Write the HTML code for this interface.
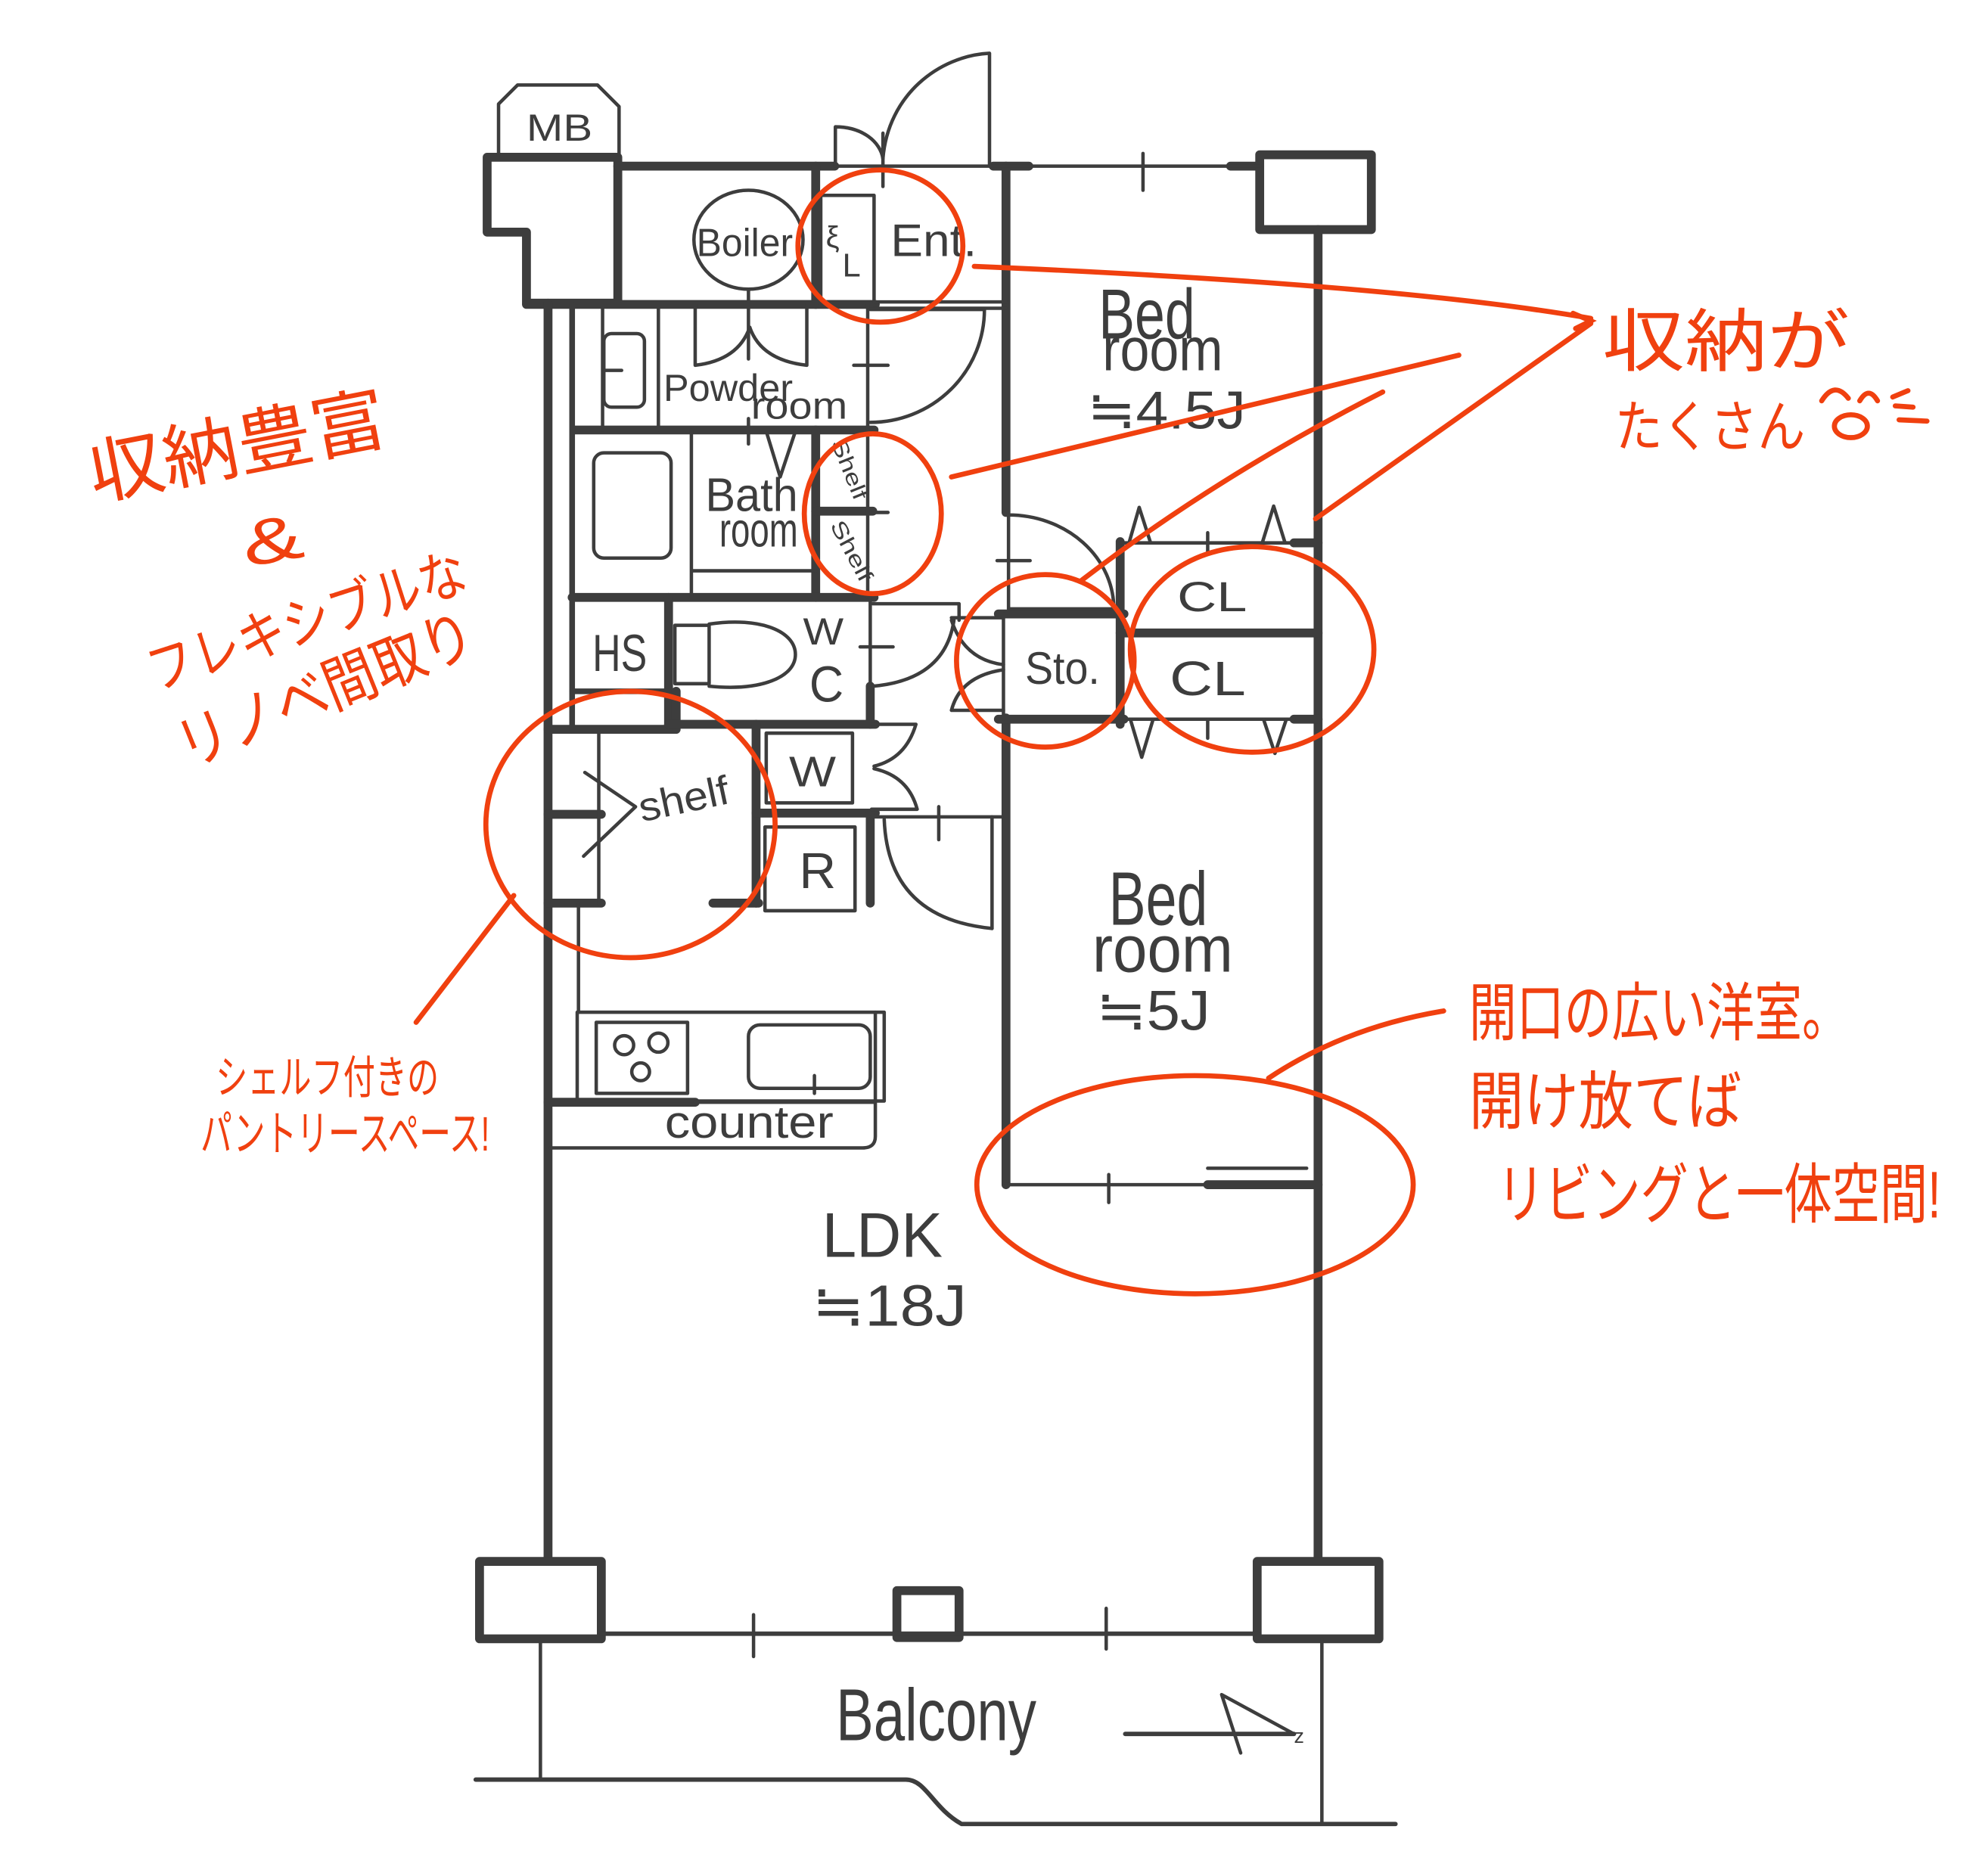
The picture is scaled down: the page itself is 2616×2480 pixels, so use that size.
<!DOCTYPE html>
<html><head><meta charset="utf-8">
<style>
html,body{margin:0;padding:0;background:#fff;}
svg{display:block}
</style></head><body>
<svg xmlns="http://www.w3.org/2000/svg" width="2616" height="2480" viewBox="0 0 1560 1479" preserveAspectRatio="none">
<rect x="0" y="0" width="1560" height="1479" fill="#fff"/>
<g fill="none" stroke="#3d3d3d" stroke-linecap="round" stroke-linejoin="round">
 <!-- thick walls -->
 <g stroke-width="7">
  <path d="M384,124 H487 V239 H415 V183 H384 Z"/>
  <path d="M487,131 H658"/>
  <path d="M643,131 V240"/>
  <path d="M415,240 H690"/>
  <path d="M432,239 V1231"/>
  <path d="M783,131 H811"/>
  <path d="M970,131 H993"/>
  <rect x="993" y="122" width="88" height="59"/>
  <path d="M1039,181 V1231"/>
  <path d="M793,131 V404"/>
  <path d="M793,566 V934"/>
  <path d="M453,339 H689"/>
  <path d="M643,339 V471"/>
  <path d="M643,403 H688"/>
  <path d="M451,471 H689"/>
  <path d="M527,471 V574"/>
  <path d="M432,575 H533 V545"/>
  <path d="M527,571 H690"/>
  <path d="M686,541 V571"/>
  <path d="M596,571 V712"/>
  <path d="M562,712 H598"/>
  <path d="M596,641 H690"/>
  <path d="M686,641 V712"/>
  <path d="M432,642 H474"/>
  <path d="M432,712 H474"/>
  <path d="M432,869 H548"/>
  <path d="M787,484 H886"/>
  <path d="M787,567 H886"/>
  <path d="M883,427 V571"/>
  <path d="M883,499 H1039"/>
  <path d="M1020,428 H1039"/>
  <path d="M1020,567 H1039"/>
  <path d="M952,934 H1039"/>
  <rect x="378" y="1231" width="96" height="61"/>
  <rect x="991" y="1231" width="96" height="61"/>
  <rect x="707" y="1254" width="49" height="37"/>
 </g>
 <g stroke-width="4.5">
  <path d="M451,240 V576"/>
  <path d="M451,545 H527"/>
 </g>
 <!-- thin lines -->
 <g stroke-width="2.7">
  <path d="M393,122 V82 L408,67 H471 L488,84 V122"/>
  <path d="M658,131 H993"/>
  <path d="M901,121 V150"/>
  <path d="M658.5,131 V100 C680,100 694,112 696,125"/>
  <path d="M780,131 V42 C740,44 700,75 696,125"/>
  <path d="M696,105 V147"/>
  <rect x="647" y="154" width="42" height="86"/>
  <path d="M689,238 H793 M689,243 H793"/>
  <ellipse cx="590" cy="189" rx="43" ry="39"/>
  <path d="M590,228 V283"/>
  <path d="M548,240 V288 Q582,284 591,258"/>
  <path d="M636,240 V288 Q600,284 591,258"/>
  <path d="M475,240 V339 M519,240 V339"/>
  <rect x="476" y="263" width="32" height="58" rx="6"/>
  <path d="M476,292 H490"/>
  <path d="M684,240 V339"/>
  <path d="M673,288 H700"/>
  <path d="M686,244 H776 A90,89 0 0 1 686,333"/>
  <rect x="468" y="357" width="61" height="83" rx="8"/>
  <path d="M545,339 V471 M545,450 H643"/>
  <path d="M604,340 L615,376 L627,340"/>
  <path d="M590,330 V350"/>
  <path d="M684,339 V471 M684,404 H700"/>
  <rect x="532" y="493" width="27" height="46"/>
  <path d="M559,492 C600,486 627,498 627,516 C627,534 600,545 559,541"/>
  <path d="M686,471 V541 M678,510 H704"/>
  <path d="M688,476 H756 V489"/>
  <path d="M752,489 Q745,536 688,541"/>
  <path d="M472,576 V712"/>
  <path d="M461,609 L501,636 L460,675"/>
  <rect x="604" y="578" width="68" height="55"/>
  <path d="M687,571 H722 Q714,598 689,604"/>
  <path d="M689,606 Q716,612 723,638 H687"/>
  <rect x="603" y="652" width="71" height="66"/>
  <path d="M687,644 H790"/>
  <path d="M782,644 V732"/>
  <path d="M697,646 Q700,724 782,732"/>
  <path d="M740,636 V662"/>
  <path d="M456,712 V798"/>
  <rect x="455" y="798" width="242" height="70"/>
  <path d="M690,798 V868"/>
  <rect x="470" y="806" width="72" height="56"/>
  <circle cx="492" cy="824" r="7.5"/>
  <circle cx="519" cy="822" r="7.5"/>
  <circle cx="505" cy="845" r="7"/>
  <rect x="590" y="808" width="96" height="50" rx="9"/>
  <path d="M642,848 V862"/>
  <path d="M548,869 H690 V896 Q690,905 680,905 H434"/>
  <path d="M795,404 V480"/>
  <path d="M795,406 A83,74 0 0 1 878,480"/>
  <path d="M795,480 H880"/>
  <path d="M786,442 H812"/>
  <path d="M750,487 H791"/>
  <path d="M750,489 Q760,520 791,524"/>
  <path d="M791,528 Q757,533 750,560 H791"/>
  <path d="M791,484 V567"/>
  <path d="M883,428 H1020 M883,567 H1020"/>
  <path d="M952,420 V436 M952,567 V582"/>
  <path d="M890,428 L898,400 L907,428 M995,428 L1004,399 L1013,428"/>
  <path d="M891,567 L900,597 L909,567 M996,567 L1005,594 L1014,567"/>
  <path d="M793,934 H952 M874,926 V948 M952,921 H1030"/>
  <path d="M474,1288 H991" stroke-width="3.5"/>
  <path d="M594,1273 V1306 M872,1268 V1300"/>
  <path d="M426,1292 V1403 M1042,1292 V1438"/>
  <path d="M375,1403 H714 C730,1403 735,1425 758,1438 H1100" stroke-width="3.5"/>
  <path d="M887,1367 H1020" stroke-width="3.5"/>
  <path d="M963,1336 L1020,1367 M963,1336 L978,1382"/>
 </g>
</g>

<!-- gray labels -->
<g fill="#3d3d3d" font-family="'Liberation Sans','Noto Sans CJK JP',sans-serif" lengthAdjust="spacingAndGlyphs">
 <text x="415" y="111" font-size="30" textLength="52" lengthAdjust="spacingAndGlyphs">MB</text>
 <text x="549" y="202" font-size="31" textLength="76" lengthAdjust="spacingAndGlyphs">Boiler</text>
 <text x="651" y="195" font-size="24">ξ</text>
 <text x="664" y="218" font-size="26">L</text>
 <text x="702" y="202" font-size="36" textLength="68" lengthAdjust="spacingAndGlyphs">Ent.</text>
 <text x="523" y="316" font-size="30" textLength="102" lengthAdjust="spacingAndGlyphs">Powder</text>
 <text x="592" y="330" font-size="30" textLength="76" lengthAdjust="spacingAndGlyphs">room</text>
 <text x="556" y="403" font-size="37" textLength="73" lengthAdjust="spacingAndGlyphs">Bath</text>
 <text x="567" y="431" font-size="38" textLength="62" lengthAdjust="spacingAndGlyphs">room</text>
 <text transform="translate(655,349) rotate(68)" font-size="17" textLength="50" lengthAdjust="spacingAndGlyphs">Shelf</text>
 <text transform="translate(654,414) rotate(62)" font-size="17" textLength="52" lengthAdjust="spacingAndGlyphs">Shelf</text>
 <text x="467" y="529" font-size="41" textLength="43" lengthAdjust="spacingAndGlyphs">HS</text>
 <text x="633" y="508" font-size="30" textLength="32" lengthAdjust="spacingAndGlyphs">W</text>
 <text x="638" y="553" font-size="40" textLength="27" lengthAdjust="spacingAndGlyphs">C</text>
 <text transform="translate(506,648) rotate(-12)" font-size="32" textLength="72" lengthAdjust="spacingAndGlyphs">shelf</text>
 <text x="622" y="620" font-size="34" textLength="37" lengthAdjust="spacingAndGlyphs">W</text>
 <text x="630" y="700" font-size="40" textLength="29" lengthAdjust="spacingAndGlyphs">R</text>
 <text x="808" y="539" font-size="36" textLength="59" lengthAdjust="spacingAndGlyphs">Sto.</text>
 <text x="928" y="482" font-size="33" textLength="55" lengthAdjust="spacingAndGlyphs">CL</text>
 <text x="922" y="548" font-size="38" textLength="60" lengthAdjust="spacingAndGlyphs">CL</text>
 <text x="866" y="267" font-size="56" textLength="76" lengthAdjust="spacingAndGlyphs">Bed</text>
 <text x="869" y="292" font-size="48" textLength="95" lengthAdjust="spacingAndGlyphs">room</text>
 <text x="857" y="338" font-size="42" textLength="125" lengthAdjust="spacingAndGlyphs">≒4.5J</text>
 <text x="874" y="729" font-size="60" textLength="78" lengthAdjust="spacingAndGlyphs">Bed</text>
 <text x="861" y="766" font-size="52" textLength="111" lengthAdjust="spacingAndGlyphs">room</text>
 <text x="864" y="812" font-size="44" textLength="90" lengthAdjust="spacingAndGlyphs">≒5J</text>
 <text x="524" y="897" font-size="36" textLength="133" lengthAdjust="spacingAndGlyphs">counter</text>
 <text x="648" y="991" font-size="50" textLength="95" lengthAdjust="spacingAndGlyphs">LDK</text>
 <text x="640" y="1045" font-size="46" textLength="122" lengthAdjust="spacingAndGlyphs">≒18J</text>
 <text x="659" y="1372" font-size="58" textLength="158" lengthAdjust="spacingAndGlyphs">Balcony</text>
 <text x="1020" y="1374" font-size="16">z</text>
</g>

<!-- red annotations -->
<g fill="none" stroke="#f0400f" stroke-width="4" stroke-linecap="round">
 <ellipse cx="694" cy="194" rx="65" ry="60"/>
 <ellipse cx="688" cy="405" rx="54" ry="63"/>
 <ellipse cx="824" cy="521" rx="70" ry="68"/>
 <ellipse cx="987" cy="512" rx="96" ry="81"/>
 <ellipse cx="497" cy="650" rx="114" ry="105"/>
 <ellipse cx="942" cy="934" rx="172" ry="86"/>
 <path d="M768,210 Q1100,224 1254,251"/>
 <path d="M750,376 L1150,280"/>
 <path d="M852,458 Q960,375 1090,309"/>
 <path d="M1037,409 L1254,255"/>
 <path d="M1240,247 L1254,253 L1242,259"/>
 <path d="M405,706 L328,806"/>
 <path d="M1000,850 Q1060,810 1138,797"/>
 <path d="M1436,316 Q1446,300 1457,314"/>
 <path d="M1466,316 Q1473,304 1480,316"/>
 <ellipse cx="1459" cy="336" rx="13" ry="9"/>
 <path d="M1492,313 L1504,308 M1494,320 L1508,321 M1497,331 L1519,332"/>
</g>
<g fill="#f0400f" font-family="'Liberation Sans','Noto Sans CJK JP',sans-serif">
 <text transform="translate(74,394) rotate(-11)" font-size="56" textLength="238" lengthAdjust="spacingAndGlyphs">収納豊富</text>
 <text transform="translate(194,447) rotate(-10)" font-size="50" textLength="48" lengthAdjust="spacingAndGlyphs">&amp;</text>
 <text transform="translate(122,545) rotate(-18)" font-size="44" textLength="262" lengthAdjust="spacingAndGlyphs">フレキシブルな</text>
 <text transform="translate(148,606) rotate(-22)" font-size="48" textLength="248" lengthAdjust="spacingAndGlyphs">リノベ間取り</text>
 <text x="1263" y="288" font-size="54" textLength="195" lengthAdjust="spacingAndGlyphs">収納が</text>
 <text x="1273" y="352" font-size="44" textLength="150" lengthAdjust="spacingAndGlyphs">たくさん</text>
 <text x="1158" y="816" font-size="50" textLength="300" lengthAdjust="spacingAndGlyphs">開口の広い洋室。</text>
 <text x="1158" y="886" font-size="50" textLength="215" lengthAdjust="spacingAndGlyphs">開け放てば</text>
 <text x="1180" y="960" font-size="52" textLength="350" lengthAdjust="spacingAndGlyphs">リビングと一体空間!</text>
 <text x="170" y="862" font-size="36" textLength="176" lengthAdjust="spacingAndGlyphs">シェルフ付きの</text>
 <text x="158" y="907" font-size="38" textLength="228" lengthAdjust="spacingAndGlyphs">パントリースペース!</text>
</g>
</svg>
</body></html>
